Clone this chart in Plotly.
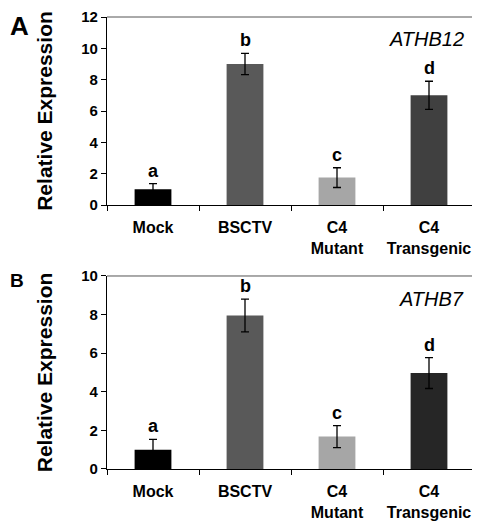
import plotly.graph_objects as go

categories = ["Mock", "BSCTV", "C4<br>Mutant", "C4<br>Transgenic"]
letters = ["a", "b", "c", "d"]

values_a = [1.0, 9.0, 1.75, 7.0]
errors_a = [0.36, 0.68, 0.63, 0.9]
colors_a = ["#000000", "#595959", "#a6a6a6", "#404040"]

values_b = [1.0, 7.95, 1.68, 4.97]
errors_b = [0.53, 0.85, 0.57, 0.8]
colors_b = ["#000000", "#595959", "#a6a6a6", "#262626"]

yticks_a = [0, 2, 4, 6, 8, 10, 12]
yticks_b = [0, 2, 4, 6, 8, 10]

FONT = "Liberation Sans, Arial, sans-serif"

fig = go.Figure()

for vals, errs, cols, xa, ya in [
    (values_a, errors_a, colors_a, "x", "y"),
    (values_b, errors_b, colors_b, "x2", "y2"),
]:
    fig.add_trace(go.Bar(
        x=categories, y=vals, marker=dict(color=cols, line=dict(width=0)),
        error_y=dict(type="data", array=errs, visible=True, color="#000000",
                     thickness=1.3, width=4),
        xaxis=xa, yaxis=ya, showlegend=False, width=0.4,
    ))
    for cat, v, e, lt in zip(categories, vals, errs, letters):
        fig.add_annotation(x=cat, y=v + e, xref=xa, yref=ya, text=f"<b>{lt}</b>",
                           showarrow=False, xanchor="center", yanchor="bottom", yshift=1,
                           font=dict(family=FONT, size=18, color="#000000"))

axis_common = dict(showline=True, linecolor="#000000", linewidth=1.2,
                   ticks="outside", ticklen=5, tickcolor="#000000",
                   showgrid=False, zeroline=False, automargin=False, tickangle=0,
                   tickfont=dict(family=FONT, size=15, color="#000000", weight="bold"))

xaxis_extra = dict(tickfont=dict(family=FONT, size=16, color="#000000", weight="bold"),
                   ticklabelstandoff=8)

title_font = dict(family=FONT, size=21, color="#000000", weight="bold")

# figure is placed with an 8px page margin, so size it to end at the window edge
fig.update_layout(
    width=472, height=517,
    margin=dict(l=99, r=5, t=9, b=56),
    plot_bgcolor="white", paper_bgcolor="white",
    bargap=0.6,
    xaxis=dict(domain=[0, 1], anchor="y", tickson="boundaries", **{**axis_common, **xaxis_extra}),
    yaxis=dict(domain=[0.584, 1], anchor="x", range=[0, 12], tickvals=yticks_a,
               title=dict(text="Relative Expression", standoff=22, font=title_font),
               **axis_common),
    xaxis2=dict(domain=[0, 1], anchor="y2", tickson="boundaries", **{**axis_common, **xaxis_extra}),
    yaxis2=dict(domain=[0, 0.427], anchor="x2", range=[0, 10], tickvals=yticks_b,
                title=dict(text="Relative Expression", standoff=22, font=title_font),
                **axis_common),
)

# frame (top and right edges)
for xr, yr in [("x domain", "y domain"), ("x2 domain", "y2 domain")]:
    fig.add_shape(type="line", xref=xr, yref=yr, x0=0, x1=1, y0=1, y1=1,
                  line=dict(color="#555555", width=1))
    fig.add_shape(type="line", xref=xr, yref=yr, x0=1, x1=1, y0=0, y1=1,
                  line=dict(color="#555555", width=1))

fig.add_annotation(text="<i>ATHB12</i>", xref="x domain", yref="y domain", x=0.975, y=0.885,
                   xanchor="right", yanchor="middle", showarrow=False,
                   font=dict(family=FONT, size=20, color="#000000"))
fig.add_annotation(text="<i>ATHB7</i>", xref="x2 domain", yref="y2 domain", x=0.975, y=0.88,
                   xanchor="right", yanchor="middle", showarrow=False,
                   font=dict(family=FONT, size=20, color="#000000"))

fig.add_annotation(text="<b>A</b>", xref="paper", yref="paper", x=-99/368, y=1.0 + 8/452,
                   xanchor="left", yanchor="top", showarrow=False,
                   font=dict(family=FONT, size=26, color="#000000"))
fig.add_annotation(text="<b>B</b>", xref="paper", yref="paper", x=-99/368, y=(469 - 268) / 452,
                   xanchor="left", yanchor="top", showarrow=False,
                   font=dict(family=FONT, size=19, color="#000000"))

fig.write_html("out.html")
